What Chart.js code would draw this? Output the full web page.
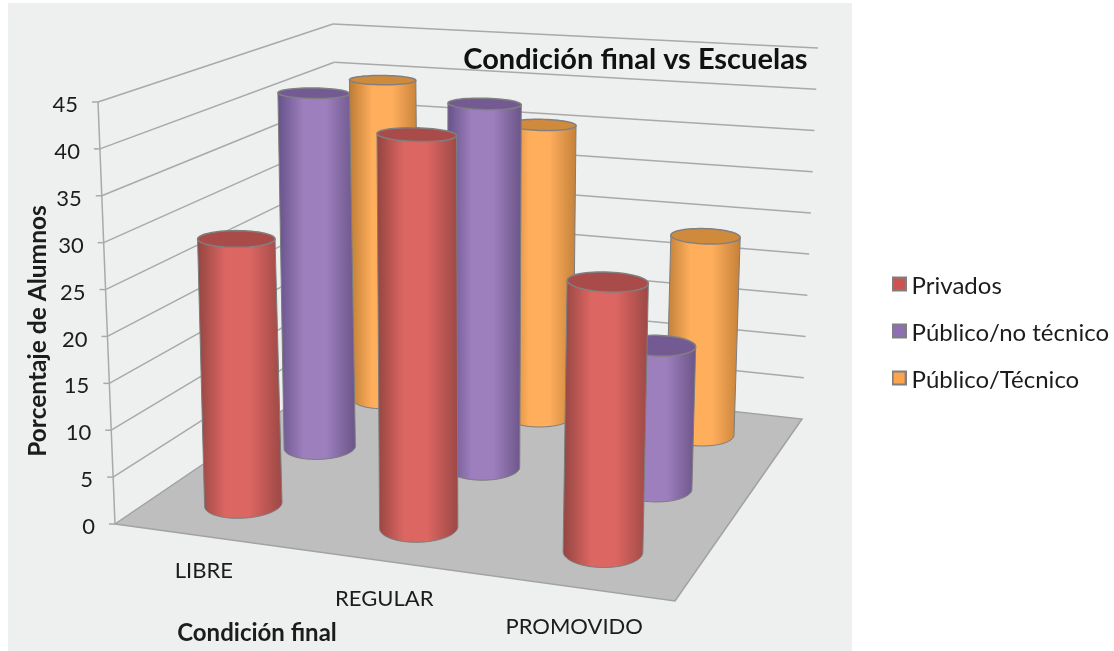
<!DOCTYPE html>
<html>
<head>
<meta charset="utf-8">
<title>Condición final vs Escuelas</title>
<script src="https://cdn.jsdelivr.net/npm/chart.js@4"></script>
<style>
  body { margin: 0; background: #fff; }
  canvas { display: block; }
</style>
</head>
<body>
<canvas id="grafico" width="1114" height="651"></canvas>
<script>
// datos
const categorias = ['LIBRE', 'REGULAR', 'PROMOVIDO'];
const privados = [29, 42, 28.3];
const noTecnico = [41.5, 41.6, 16];
const tecnico = [39.8, 35.5, 23.6];
const nombresSeries = ['Privados', 'Público/no técnico', 'Público/Técnico'];
const tituloY = 'Porcentaje de Alumnos';
const tituloX = 'Condición final';

const coloresSeries = ['#cd5350', '#8d70b3', '#fba34f'];
const cuerpo = [
  ['#934541', '#dc6662', '#9c4845'],
  ['#67528a', '#9d7fbe', '#6c5589'],
  ['#bd7d35', '#ffae5c', '#c5813a']
];
const tapa = ['#a94b48', '#735a92', '#cf8a3c'];

// caja 3D: esquinas del piso y del plano superior (valor maximo)
const piso = [[115, 524], [675, 601], [802, 419], [345, 368]];
const techo = [[98, 102], [688, 154], [818, 48], [333, 24]];
const fuga = [445, 8707]; // punto de fuga de las verticales
const radioU = 0.067, radioV = 0.072;
const fuente = 'Lato, "Open Sans", sans-serif';

function homografia(q) {
  const [[x0, y0], [x1, y1], [x2, y2], [x3, y3]] = q;
  const dx1 = x1 - x2, dx2 = x3 - x2, dx3 = x0 - x1 + x2 - x3;
  const dy1 = y1 - y2, dy2 = y3 - y2, dy3 = y0 - y1 + y2 - y3;
  const det = dx1 * dy2 - dx2 * dy1;
  const g = (dx3 * dy2 - dx2 * dy3) / det;
  const h = (dx1 * dy3 - dx3 * dy1) / det;
  const a = x1 - x0 + g * x1, b = x3 - x0 + h * x3;
  const d = y1 - y0 + g * y1, e = y3 - y0 + h * y3;
  return (u, v) => {
    const w = g * u + h * v + 1;
    return [(a * u + b * v + x0) / w, (d * u + e * v + y0) / w];
  };
}
const hPiso = homografia(piso);
const hTecho = homografia(techo);

// u = a lo ancho, v = profundidad, n = altura 0..1
function proyectar(u, v, n) {
  const p = hPiso(u, v), t = hTecho(u, v);
  return [p[0] + (t[0] - p[0]) * n, p[1] + (t[1] - p[1]) * n];
}

// para los cilindros: la x sigue la recta hacia el punto de fuga
function proyectarMarca(u, v, n) {
  const p = hPiso(u, v), t = hTecho(u, v);
  const y = p[1] + (t[1] - p[1]) * n;
  return [p[0] - 2 - n + (p[0] - fuga[0]) * (p[1] - y) / (fuga[1] - p[1]), y];
}

function fraccionY(chart, valor) {
  const y = chart.scales.y;
  return (y.bottom - y.getPixelForValue(valor)) / (y.bottom - y.top);
}

function linea(ctx, a, b) {
  ctx.beginPath();
  ctx.moveTo(a[0], a[1]);
  ctx.lineTo(b[0], b[1]);
  ctx.stroke();
}

function cilindro(ctx, u, v, n, serie) {
  const abajo = [], arriba = [];
  for (let k = 0; k < 60; k++) {
    const t = k / 60 * Math.PI * 2;
    const cu = u + radioU * Math.cos(t);
    abajo.push(proyectarMarca(cu, v + radioV * Math.sin(t), 0));
    // la tapa se ve mas aplastada cuanto mas alta
    arriba.push(proyectarMarca(cu, v + radioV * (1 - 0.25 * n) * Math.sin(t), n));
  }
  const porX = (l) => l.slice().sort((a, b) => a[0] - b[0]);
  const bo = porX(abajo), to = porX(arriba);
  const bI = bo[0], bD = bo[bo.length - 1], tI = to[0], tD = to[to.length - 1];
  const arco = abajo
    .filter((p) => p[1] >= bI[1] + (bD[1] - bI[1]) * (p[0] - bI[0]) / (bD[0] - bI[0]))
    .sort((a, b) => b[0] - a[0]);

  const c = cuerpo[serie];
  const grad = ctx.createLinearGradient(Math.min(bI[0], tI[0]), 0, Math.max(bD[0], tD[0]), 0);
  grad.addColorStop(0, c[0]);
  grad.addColorStop(0.33, c[1]);
  grad.addColorStop(0.62, c[1]);
  grad.addColorStop(1, c[2]);

  ctx.beginPath();
  ctx.moveTo(tI[0], tI[1]);
  ctx.lineTo(tD[0], tD[1]);
  ctx.lineTo(bD[0], bD[1]);
  arco.forEach((p) => ctx.lineTo(p[0], p[1]));
  ctx.lineTo(bI[0], bI[1]);
  ctx.closePath();
  ctx.fillStyle = grad;
  ctx.fill();
  ctx.strokeStyle = '#7d7d7d';
  ctx.lineWidth = 1;
  ctx.stroke();

  ctx.beginPath();
  arriba.forEach((p, k) => (k ? ctx.lineTo(p[0], p[1]) : ctx.moveTo(p[0], p[1])));
  ctx.closePath();
  ctx.fillStyle = tapa[serie];
  ctx.fill();
  ctx.strokeStyle = '#808080';
  ctx.lineWidth = 1.5;
  ctx.stroke();
}

// cuadradito de la leyenda, dibujado en su propio canvas
function marcador(color) {
  const c = document.createElement('canvas');
  c.width = 15;
  c.height = 22;
  const g = c.getContext('2d');
  g.fillStyle = '#7f7f7f';
  g.fillRect(0, 1, 15, 15);
  g.fillStyle = color;
  g.fillRect(2, 3, 11, 11);
  return c;
}

const grafico3d = {
  id: 'grafico3d',
  beforeDraw(chart) {
    const ctx = chart.ctx;
    ctx.save();
    // panel de fondo
    ctx.fillStyle = '#eeefef';
    ctx.fillRect(8, 3, 844, 648);

    // piso
    ctx.beginPath();
    piso.forEach((p, k) => (k ? ctx.lineTo(p[0], p[1]) : ctx.moveTo(p[0], p[1])));
    ctx.closePath();
    ctx.fillStyle = '#bebebe';
    ctx.fill();
    ctx.strokeStyle = '#a2a2a2';
    ctx.lineWidth = 1.5;
    ctx.stroke();

    // lineas de las paredes, una por cada tick del eje
    ctx.strokeStyle = '#a9a9a9';
    ctx.lineWidth = 1.5;
    chart.scales.y.ticks.forEach((t) => {
      const n = fraccionY(chart, t.value);
      const a = proyectar(0, 0, n), b = proyectar(0, 1, n), c = proyectar(1, 1, n);
      if (t.value > 0) {
        linea(ctx, a, b);
        linea(ctx, b, c);
      }
      linea(ctx, [a[0] - 6, a[1]], a);
    });
    linea(ctx, proyectar(0, 0, 0), proyectar(0, 0, 1));
    ctx.restore();
  },
  beforeDatasetDraw() {
    return false; // las barras planas no se dibujan, van los cilindros
  },
  afterDatasetsDraw(chart) {
    const ctx = chart.ctx, x = chart.scales.x;
    const nSeries = chart.data.datasets.length;
    ctx.save();
    for (let s = nSeries - 1; s >= 0; s--) {
      chart.data.datasets[s].data.forEach((valor, i) => {
        const u = (x.getPixelForValue(i) - x.left) / (x.right - x.left);
        cilindro(ctx, u, (s + 0.5) / nSeries, fraccionY(chart, valor), s);
      });
    }

    // textos de los ejes
    ctx.fillStyle = '#1c1c1c';
    ctx.font = '22px ' + fuente;
    ctx.textAlign = 'right';
    ctx.textBaseline = 'middle';
    chart.scales.y.ticks.forEach((t) => {
      const a = proyectar(0, 0, fraccionY(chart, t.value));
      ctx.fillText(t.label, a[0] - 20, a[1] + 3);
    });
    ctx.textAlign = 'center';
    ctx.font = '22px ' + fuente;
    categorias.forEach((nombre, i) => {
      const u = (x.getPixelForValue(i) - x.left) / (x.right - x.left);
      const p = proyectar(u, 0, 0);
      ctx.fillText(nombre, p[0] + 2 - 4 * u, p[1] + 34 + 7 * u);
    });
    ctx.font = 'bold 24px ' + fuente;
    ctx.fillText(tituloX, 257, 633);
    ctx.translate(38, 331);
    ctx.rotate(-Math.PI / 2);
    ctx.font = 'bold 24.5px ' + fuente;
    ctx.fillText(tituloY, 0, 0);
    ctx.restore();
  }
};

new Chart(document.getElementById('grafico'), {
  type: 'bar',
  data: {
    labels: categorias,
    datasets: [
      { label: nombresSeries[0], data: privados, backgroundColor: coloresSeries[0] },
      { label: nombresSeries[1], data: noTecnico, backgroundColor: coloresSeries[1] },
      { label: nombresSeries[2], data: tecnico, backgroundColor: coloresSeries[2] }
    ]
  },
  options: {
    responsive: false,
    animation: false,
    layout: { padding: { left: 115, right: -5, top: 16, bottom: 0 } },
    scales: {
      x: {
        ticks: { display: false },
        grid: { display: false },
        border: { display: false },
        afterFit(s) { s.height = 127; }
      },
      y: {
        display: false,
        min: 0,
        max: 45,
        ticks: { stepSize: 5 },
        afterFit(s) { s.width = 0; }
      },
      // solo reserva el espacio entre el area del grafico y la leyenda
      y2: {
        display: false,
        position: 'right',
        afterFit(s) { s.width = 68; }
      }
    },
    plugins: {
      title: {
        display: true,
        text: 'Condición final vs Escuelas',
        align: 'end',
        fullSize: false,
        color: '#111',
        font: { family: fuente, size: 29, weight: 'bold', lineHeight: 1.2 },
        padding: { top: 26, bottom: 25 }
      },
      legend: {
        position: 'right',
        labels: {
          color: '#1c1c1c',
          font: { family: fuente, size: 24 },
          usePointStyle: true,
          pointStyleWidth: 1,
          padding: 23,
          generateLabels(chart) {
            return Chart.defaults.plugins.legend.labels.generateLabels(chart).map((item, i) => {
              item.pointStyle = marcador(coloresSeries[i]);
              return item;
            });
          }
        }
      },
      tooltip: { enabled: false }
    }
  },
  plugins: [grafico3d]
});
</script>
</body>
</html>
